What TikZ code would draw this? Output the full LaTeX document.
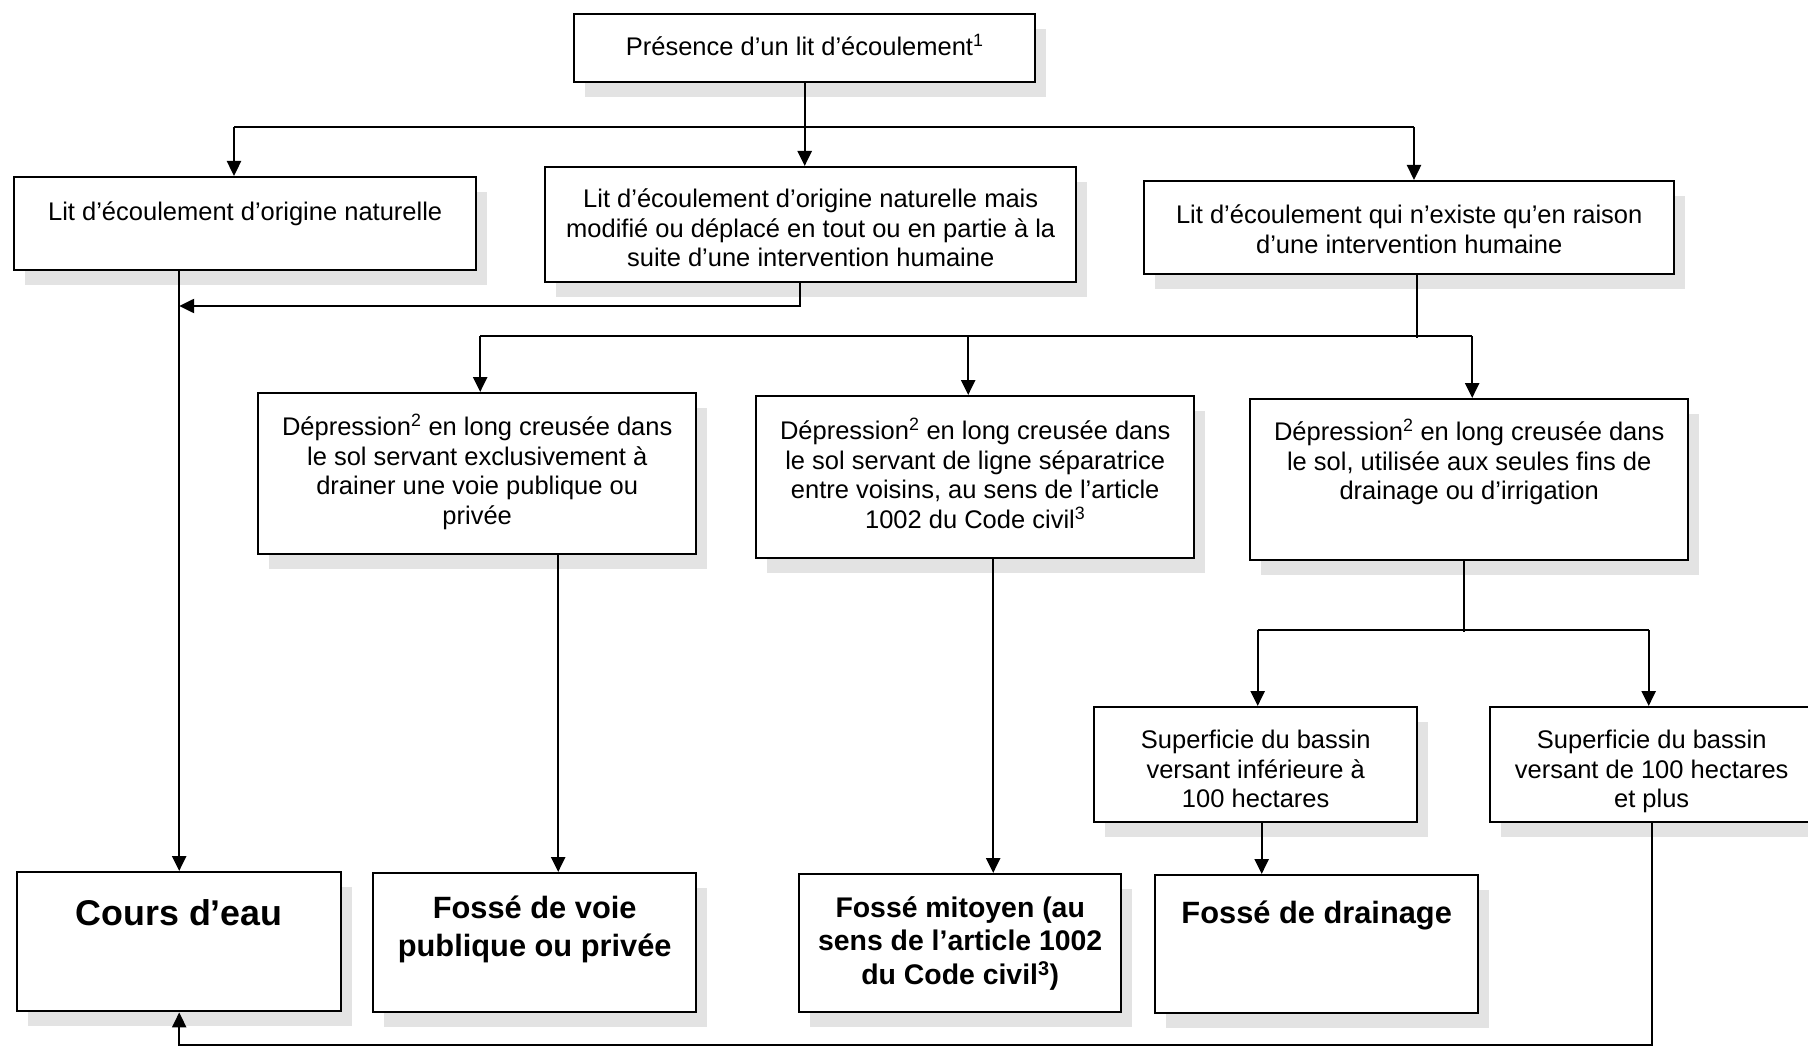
\documentclass[tikz,border=0pt]{standalone}
\usepackage{fontspec}
\setmainfont{Liberation Sans}
\usetikzlibrary{arrows.meta,shadows,calc}
\newcommand{\bxt}[5]{\parbox[c][#2][t]{#1}{#4\centering\vspace*{#3}\strut #5\par}}
\newcommand{\nf}{\fontsize{25.5}{29.5}\selectfont}
\begin{document}
\begin{tikzpicture}[x=1pt,y=-1pt,
  box/.style={draw, line width=2.4pt, fill=white, inner sep=0pt, anchor=north west,
    drop shadow={shadow xshift=11pt, shadow yshift=-15pt, fill=black!11, opacity=1}},
  conn/.style={line width=2.4pt},
  arr/.style={conn,-{Triangle[length=15pt,width=14pt]}}]
\fill[white] (0,0) rectangle (1808,1046);
\useasboundingbox (0,0) rectangle (1808,1046);

% boxes
\node[box] (top) at (573,13) {\bxt{461pt}{68pt}{20pt}{\nf}{Présence d’un lit d’écoulement\textsuperscript{1}}};
\node[box] (nat) at (13,176) {\bxt{462pt}{93pt}{23pt}{\nf}{Lit d’écoulement d’origine naturelle}};
\node[box] (mod) at (544,166) {\bxt{531pt}{115pt}{20pt}{\nf}{Lit d’écoulement d’origine naturelle mais\\ modifié ou déplacé en tout ou en partie à la\\ suite d’une intervention humaine}};
\node[box] (hum) at (1143,180) {\bxt{530pt}{93pt}{22pt}{\nf}{Lit d’écoulement qui n’existe qu’en raison\\ d’une intervention humaine}};
\node[box] (dep1) at (257,392) {\bxt{438pt}{161pt}{21pt}{\nf}{Dépression\textsuperscript{2} en long creusée dans\\ le sol servant exclusivement à\\ drainer une voie publique ou\\ privée}};
\node[box] (dep2) at (755,395) {\bxt{438pt}{162pt}{22pt}{\nf}{Dépression\textsuperscript{2} en long creusée dans\\ le sol servant de ligne séparatrice\\ entre voisins, au sens de l’article\\ 1002 du Code civil\textsuperscript{3}}};
\node[box] (dep3) at (1249,398) {\bxt{438pt}{161pt}{20pt}{\nf}{Dépression\textsuperscript{2} en long creusée dans\\ le sol, utilisée aux seules fins de\\ drainage ou d’irrigation}};
\node[box] (supinf) at (1093,706) {\bxt{323pt}{115pt}{21pt}{\nf}{Superficie du bassin\\ versant inférieure à\\ 100 hectares}};
\node[box] (supplus) at (1489,706) {\bxt{323pt}{115pt}{21pt}{\nf}{Superficie du bassin\\ versant de 100 hectares\\ et plus}};
\node[box] (cours) at (16,871) {\bxt{324pt}{139pt}{25pt}{\fontsize{35.8}{40}\selectfont\bfseries}{Cours d’eau}};
\node[box] (voie) at (372,872) {\bxt{323pt}{139pt}{19.5pt}{\fontsize{30.8}{37.5}\selectfont\bfseries}{Fossé de voie\\ publique ou privée}};
\node[box] (mit) at (798,873) {\bxt{322pt}{138pt}{19.5pt}{\fontsize{28.4}{33.5}\selectfont\bfseries}{Fossé mitoyen (au\\ sens de l’article 1002\\ du Code civil\textsuperscript{3})}};
\node[box] (drain) at (1154,874) {\bxt{323pt}{138pt}{24pt}{\fontsize{30.8}{35}\selectfont\bfseries}{Fossé de drainage}};

% connectors from top
\coordinate (b1) at (234,127);
\coordinate (b2) at (1414,127);
\draw[conn] (b1) -- (b2);
\draw[arr] (top.south) -- (top.south |- mod.north);
\draw[arr] (b1) -- (b1 |- nat.north);
\draw[arr] (b2) -- (b2 |- hum.north);

% natural trunk
\draw[arr] (cours.north |- nat.south) -- (cours.north);
\coordinate (m1) at ($(mod.south)+(-11,0)$);
\draw[arr] (m1) |- (cours.north |- 0,306);

% human branch
\coordinate (h1) at ($(hum.south)+(8,0)$);
\coordinate (e1) at ($(dep1.north)+(3,-56)$);
\coordinate (e2) at ($(dep2.north)+(-7,-59)$);
\coordinate (e3) at ($(dep3.north)+(3,-62)$);
\draw[conn] (h1) -- ++(0,63);
\draw[conn] (e1) -- (e3);
\draw[arr] (e1) -- (e1 |- dep1.north);
\draw[arr] (e2) -- (e2 |- dep2.north);
\draw[arr] (e3) -- (e3 |- dep3.north);

\coordinate (d1) at ($(dep1.south)+(81,0)$);
\draw[arr] (d1) -- (d1 |- voie.north);
\coordinate (d2) at ($(dep2.south)+(18,0)$);
\draw[arr] (d2) -- (d2 |- mit.north);

% drainage branch
\coordinate (d3) at ($(dep3.south)+(-5,0)$);
\coordinate (f1) at ($(supinf.north)+(2,-76)$);
\coordinate (f2) at ($(supplus.north)+(-3,-76)$);
\draw[conn] (d3) -- ++(0,71);
\draw[conn] (f1) -- (f2);
\draw[arr] (f1) -- (f1 |- supinf.north);
\draw[arr] (f2) -- (f2 |- supplus.north);
\coordinate (s1) at ($(supinf.south)+(6,0)$);
\draw[arr] (s1) -- (s1 |- drain.north);
\draw[arr] (supplus.south) -- ++(0,222) -| (cours.south);
\end{tikzpicture}
\end{document}
